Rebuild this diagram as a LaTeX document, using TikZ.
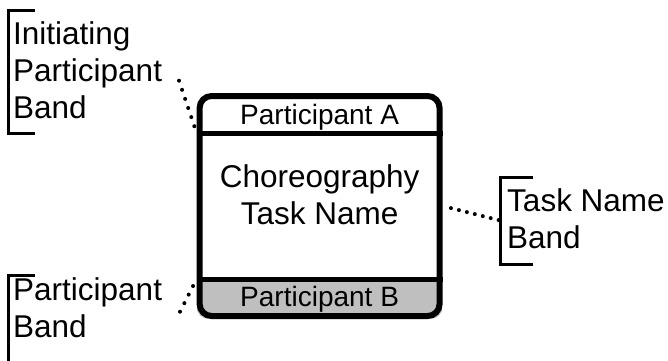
\documentclass[tikz,border=0pt]{standalone}
\usepackage{fontspec}
\setmainfont{Liberation Sans}
\usetikzlibrary{backgrounds}

\tikzset{
  taskbox/.style={draw,line width=6pt,rounded corners=12pt,minimum width=240pt,
                  minimum height=220pt,inner sep=0pt},
  sepline/.style={line width=5pt},
  bandtext/.style={font=\fontsize{28pt}{34pt}\selectfont,inner sep=0pt,anchor=base},
  labeltext/.style={font=\fontsize{31.5pt}{37pt}\selectfont,inner sep=0pt,align=left,
                    anchor=base west},
  bracket/.style={line width=3pt},
  dotline/.style={line width=4pt,line cap=round,dash pattern=on 0pt off 9.6pt},
}

\begin{document}
\begin{tikzpicture}[x=1pt,y=-1pt]
  \useasboundingbox (0,0) rectangle (668,360);
  % the choreography task and its three bands
  \node[taskbox] (task) at (319.6,206) {};
  \coordinate (sepA) at (0,133);
  \coordinate (sepB) at (0,279);
  \begin{scope}[on background layer]
    \clip[rounded corners=12pt] (task.north west) rectangle (task.south east);
    \fill[black!25] (task.west |- sepB) rectangle (task.south east);
  \end{scope}
  \draw[sepline] (task.west |- sepA) -- (task.east |- sepA);
  \draw[sepline] (task.west |- sepB) -- (task.east |- sepB);
  \node[bandtext] (partA) at (319.6,124) {Participant A};
  \node[bandtext,font=\fontsize{31.5pt}{37.5pt}\selectfont,align=center] (taskname)
       at (319.6,224.5) {Choreography\\Task Name};
  \node[bandtext] (partB) at (319.6,306) {Participant B};
  % labels with their brackets (base = last line)
  \node[labeltext] (initband) at (13,118) {Initiating\\Participant\\Band};
  \node[labeltext] (namelabel) at (507,248) {Task Name\\Band};
  \node[labeltext] (partband) at (13,337) {Participant\\Band};
  \foreach \x/\t/\b/\w in {8/10.5/133.3/27, 500.3/177/264/33, 8/275/362/27}
    \draw[bracket] (\x+\w,\t) -- (\x,\t) -- (\x,\b) -- (\x+\w,\b);
  \coordinate (initend) at (179,80.7);
  \coordinate (partend) at (180,311.7);
  \coordinate (namebrk) at (500.3,220.5);
  \draw[dotline] (initend) -- (task.west |- sepA);
  \draw[dotline] (partend) -- (task.west |- sepB);
  \draw[dotline,dash pattern=on 0pt off 8.2pt,shorten <=8.6pt] (task.east) -- (namebrk);
\end{tikzpicture}
\end{document}
